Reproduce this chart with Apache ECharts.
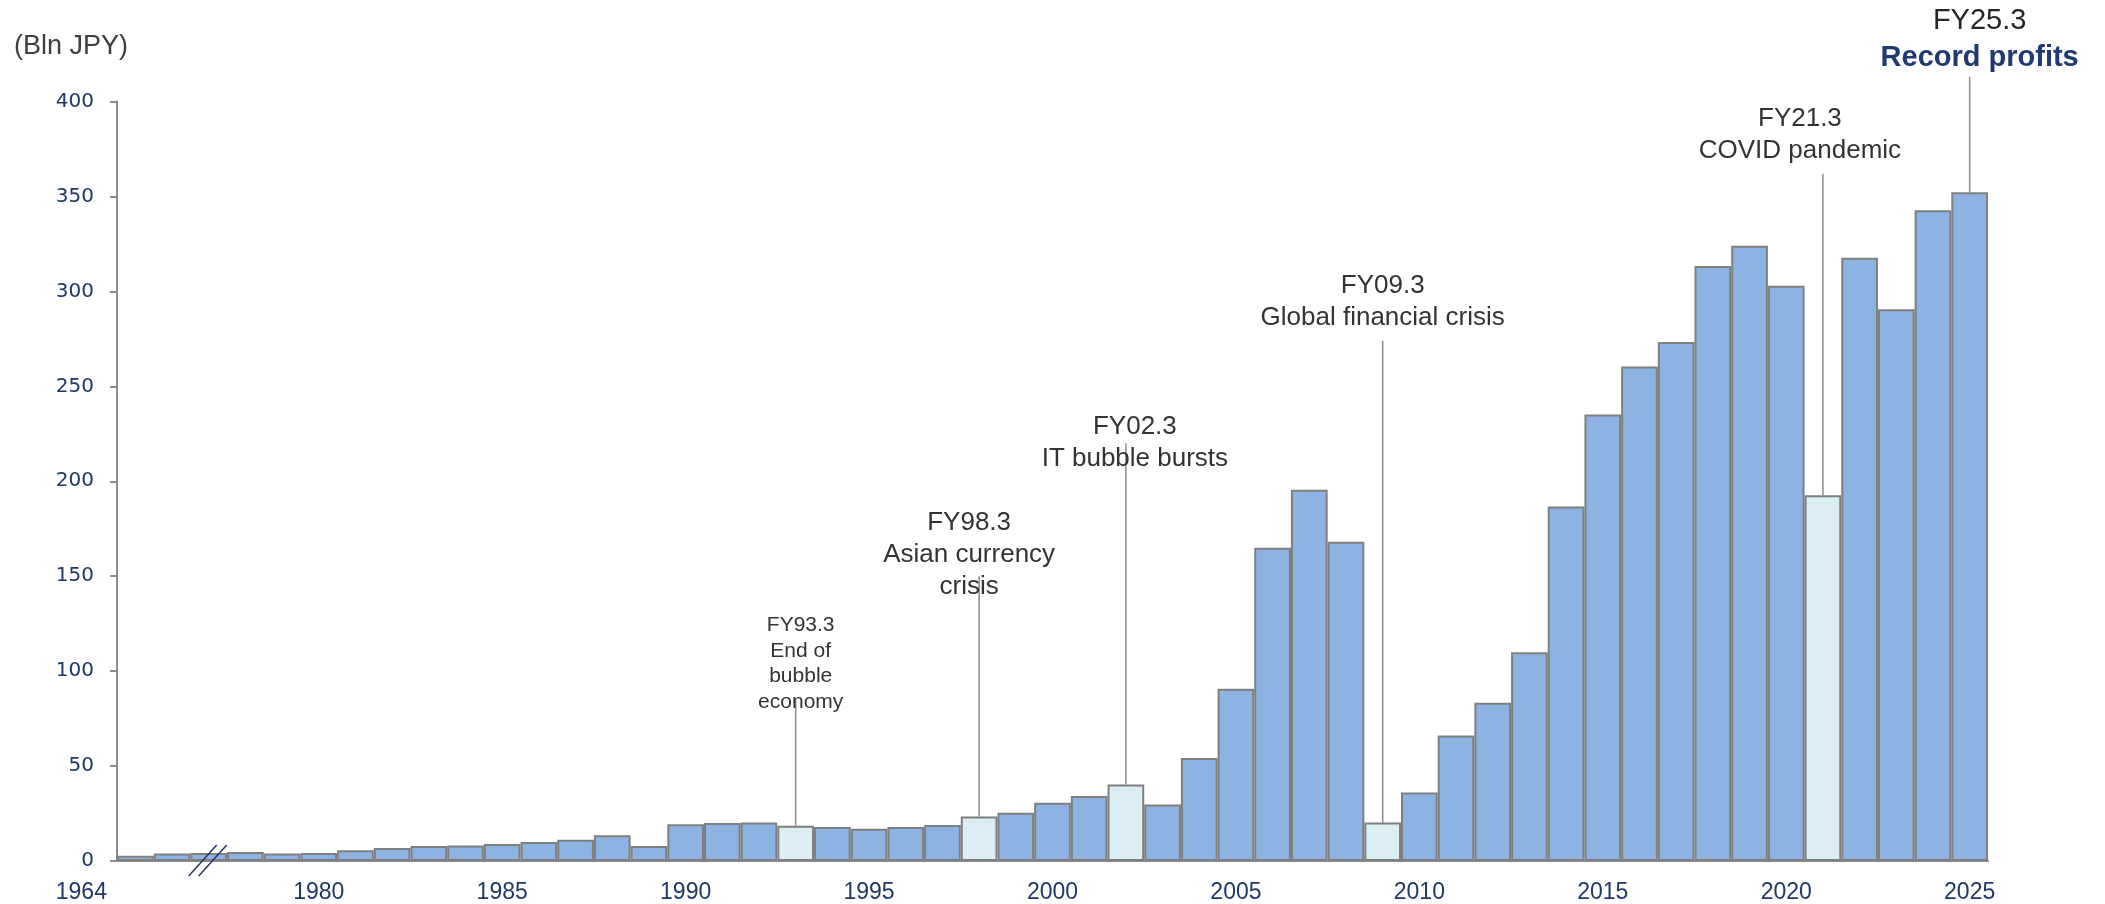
<!DOCTYPE html>
<html><head><meta charset="utf-8">
<script src="https://cdn.jsdelivr.net/npm/echarts@6/dist/echarts.min.js"></script>
<style>html,body{margin:0;padding:0;background:#fff}#c{width:2105px;height:904px}</style>
</head><body><div id="c"></div>
<script>
// ---- data ----
const categories = ['1964','1965','1977','1978','1979',
  '1980','1981','1982','1983','1984','1985','1986','1987','1988','1989',
  '1990','1991','1992','1993','1994','1995','1996','1997','1998','1999',
  '2000','2001','2002','2003','2004','2005','2006','2007','2008','2009',
  '2010','2011','2012','2013','2014','2015','2016','2017','2018','2019',
  '2020','2021','2022','2023','2024','2025'];
const profits = [2.8, 4.0, 4.2, 4.7, 3.9,
  4.2, 5.6, 6.8, 7.9, 8.2, 8.9, 10.0, 11.2, 13.6, 7.9,
  19.3, 20.0, 20.3, 18.6, 17.9, 17.0, 17.9, 18.9, 23.5, 25.4,
  30.7, 34.2, 40.3, 29.8, 54.2, 90.7, 165.0, 195.5, 168.2, 20.3,
  36.1, 66.1, 83.4, 110.0, 186.7, 235.2, 260.4, 273.3, 313.4, 324.0,
  303.0, 192.6, 317.7, 290.6, 342.7, 352.2];
const crisisYears = ['1993','1998','2002','2009','2021'];
const labelYears = ['1964','1980','1985','1990','1995','2000','2005','2010','2015','2020','2025'];
const axisBreakYear = '1977';
const annotationYears = ['1993','1998','2002','2009','2021','2025'];
const annotationTitles = ['FY93.3','FY98.3','FY02.3','FY09.3','FY21.3','FY25.3'];
const annotationTexts = ['End of\nbubble\neconomy','Asian currency\ncrisis','IT bubble bursts','Global financial crisis','COVID pandemic','Record profits'];
const annotationLineTops = [85, 150, 220, 274, 362, 413];

// ---- styles (layout only) ----
const FONT = '"Liberation Sans", Arial, sans-serif';
const NAVY = '#1F3864';
const annoStyle = [
  {dx: 5,   dy: 15,  size: 21, lh: 25.5},
  {dx: -10, dy: 27,  size: 26, lh: 32},
  {dx: 9,   dy: 32,  size: 26, lh: 32},
  {dx: 0,   dy: -7,  size: 26, lh: 32},
  {dx: -23, dy: -7,  size: 26, lh: 32},
  {dx: 10,  dy: 0,   size: 29, lh: 37, highlight: true}
];

const barData = categories.map((c, i) => ({
  value: profits[i],
  itemStyle: { color: crisisYears.includes(c) ? '#DAEEF3' : '#8DB3E2' }
}));
const annoData = annotationYears.map((y, i) => {
  const idx = categories.indexOf(y);
  return [idx, profits[idx], annotationLineTops[i]];
});

const chart = echarts.init(document.getElementById('c'));
chart.setOption({
  animation: false,
  backgroundColor: '#fff',
  title: {
    text: '(Bln JPY)', left: 14, top: 33, padding: 0,
    textStyle: { fontFamily: FONT, fontSize: 27, fontWeight: 'normal', color: '#404040' }
  },
  grid: { left: 117, right: 117, top: 101.5, bottom: 41 },
  xAxis: {
    type: 'category',
    data: categories,
    axisLine: { lineStyle: { color: '#8c8c8c', width: 2 } },
    axisTick: { show: false },
    axisLabel: {
      interval: (index, value) => labelYears.includes(value),
      formatter: v => v === '1964' ? '{l|1964}' : v,
      color: NAVY, fontFamily: FONT, fontSize: 23, margin: 20,
      rich: { l: { color: NAVY, fontFamily: FONT, fontSize: 23, padding: [0, 108, 0, 0] } }
    }
  },
  yAxis: {
    type: 'value', min: 0, max: 400, interval: 50,
    axisLine: { show: true, lineStyle: { color: '#8c8c8c', width: 2 } },
    axisTick: { show: true, length: 7, lineStyle: { color: '#8c8c8c', width: 2 } },
    splitLine: { show: false },
    axisLabel: { color: NAVY, fontFamily: '"DejaVu Sans", sans-serif', fontSize: 20, margin: 23 }
  },
  series: [
    {
      type: 'bar',
      data: barData,
      barCategoryGap: '0%',
      itemStyle: { borderColor: '#7f7f7f', borderWidth: 2 },
      z: 2
    },
    {
      type: 'custom',
      data: annoData,
      z: 5,
      clip: false,
      renderItem: (params, api) => {
        const i = params.dataIndex;
        const st = annoStyle[i];
        const base = api.coord([api.value(0), api.value(1)]);
        const top = api.coord([api.value(0), api.value(2)]);
        let textStyle;
        if (st.highlight) {
          textStyle = {
            text: '{a|' + annotationTitles[i] + '}\n{b|' + annotationTexts[i] + '}',
            rich: {
              a: { fontFamily: FONT, fontSize: st.size, lineHeight: st.lh, fill: '#262626' },
              b: { fontFamily: FONT, fontSize: st.size, lineHeight: st.lh, fontWeight: 'bold', fill: '#1F3A73' }
            }
          };
        } else {
          textStyle = {
            text: annotationTitles[i] + '\n' + annotationTexts[i],
            fontFamily: FONT, fontSize: st.size, lineHeight: st.lh, fill: '#333333'
          };
        }
        return {
          type: 'group',
          children: [
            { type: 'line', shape: { x1: base[0], y1: base[1], x2: top[0], y2: top[1] },
              style: { stroke: '#8c8c8c', lineWidth: 1.5 } },
            { type: 'text', z2: 10, style: Object.assign({
                x: top[0] + st.dx, y: top[1] + st.dy, align: 'center', verticalAlign: 'bottom'
              }, textStyle) }
          ]
        };
      }
    },
    {
      type: 'custom',
      data: [[categories.indexOf(axisBreakYear), 0]],
      z: 6,
      clip: false,
      renderItem: (params, api) => {
        const p = api.coord([api.value(0), api.value(1)]);
        const s = { stroke: NAVY, lineWidth: 1.5 };
        return {
          type: 'group',
          children: [
            { type: 'line', shape: { x1: p[0] - 20, y1: p[1] + 15, x2: p[0] + 8, y2: p[1] - 16 }, style: s },
            { type: 'line', shape: { x1: p[0] - 10, y1: p[1] + 15, x2: p[0] + 18, y2: p[1] - 16 }, style: s }
          ]
        };
      }
    }
  ]
});
</script>
</body></html>
